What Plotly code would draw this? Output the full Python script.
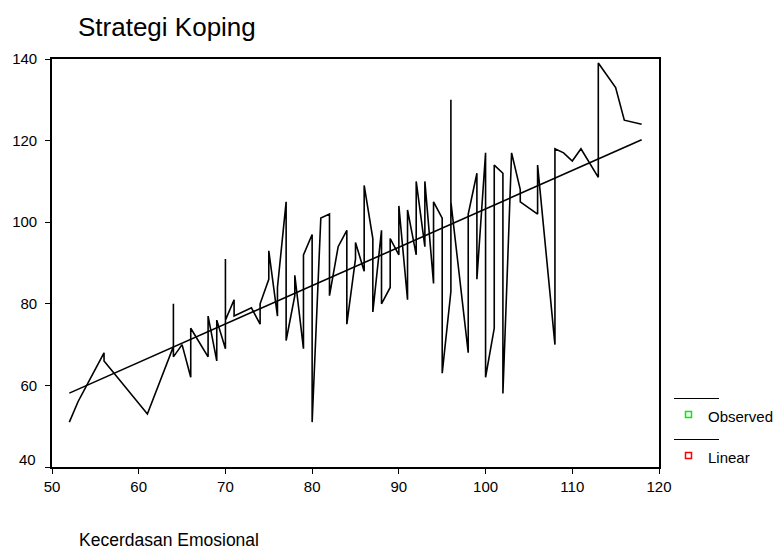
import plotly.graph_objects as go

# Observed data (x sorted, as drawn by SPSS curve estimation)
x_obs = [52, 53, 54, 56, 56, 60, 61, 64, 64, 64, 65, 66, 66, 68, 68, 69, 69,
         70, 70, 70, 71, 71, 73, 74, 74, 75, 75, 76, 76, 77, 77, 78, 78,
         79, 79, 80, 80, 81, 82, 82, 83, 84, 84, 85, 85, 86, 86, 87, 87,
         88, 88, 89, 89, 90, 90, 91, 91, 92, 92, 93, 93, 94, 94, 95, 95,
         96, 96, 96, 98, 98, 99, 99, 100, 100, 101, 101, 102, 102, 103,
         104, 104, 106, 106, 108, 108, 109, 110, 111, 113, 113, 115, 116, 118]
y_obs = [51, 56, 60, 68, 66, 55.5, 53, 69.5, 80, 67, 70, 62, 74, 67, 77, 66, 76,
         69, 91, 76, 81, 77, 79, 75, 80, 86, 93, 77, 84, 105, 71, 82, 87,
         69, 92, 97, 51, 101, 102, 82, 94, 98, 75, 91, 95, 88, 109, 96, 78,
         98, 80, 84, 96, 92, 104, 81, 103, 92, 110, 94, 110, 85, 105, 101, 63,
         83, 130, 105, 68, 102, 112, 86, 117, 62, 74, 114, 112, 58, 117,
         108, 105, 102, 114, 70, 118, 117, 115, 118, 111, 139, 133, 125, 124]

# Linear fit coefficients
lin_intercept = 9.17
lin_slope = 0.941

x_ticks = [50, 60, 70, 80, 90, 100, 110, 120]
y_ticks = [40, 60, 80, 100, 120, 140]

title_text = "Strategi Koping"
x_title = "Kecerdasan Emosional"
legend_labels = ["Observed", "Linear"]
legend_colors = ["#00ee00", "#ff0000"]

x_lin = sorted(set(x_obs))
y_lin = [lin_intercept + lin_slope * v for v in x_lin]

FONT = "Liberation Sans, Arial, sans-serif"

fig = go.Figure()
fig.add_trace(go.Scatter(x=x_obs, y=y_obs, mode="lines",
                         line=dict(color="black", width=1.6), showlegend=False,
                         hoverinfo="skip"))
fig.add_trace(go.Scatter(x=x_lin, y=y_lin, mode="lines",
                         line=dict(color="black", width=1.6), showlegend=False,
                         hoverinfo="skip"))

L, R, T, B = 52, 124, 59, 84
W, H = 783, 551
pw = W - L - R
ph = H - T - B


def px2paper_x(px):
    return (px - L) / pw


def px2paper_y(py):
    return (H - B - py) / ph


shapes = []
annotations = []
# legend: line above each marker
line_ys = [398.5, 439.5]
mark_ys = [414.5, 455.5]
for i, lab in enumerate(legend_labels):
    shapes.append(dict(type="line", xref="paper", yref="paper",
                       x0=px2paper_x(674), x1=px2paper_x(719),
                       y0=px2paper_y(line_ys[i]), y1=px2paper_y(line_ys[i]),
                       line=dict(color="black", width=1.2)))
    shapes.append(dict(type="rect", xref="paper", yref="paper",
                       x0=px2paper_x(685.5), x1=px2paper_x(691.5),
                       y0=px2paper_y(mark_ys[i] - 3), y1=px2paper_y(mark_ys[i] + 3),
                       line=dict(color=legend_colors[i], width=1.5)))
    annotations.append(dict(text=lab, xref="paper", yref="paper",
                            x=px2paper_x(706), y=px2paper_y(mark_ys[i] + 2),
                            xanchor="left", yanchor="middle", showarrow=False,
                            font=dict(family=FONT, size=15, color="black")))

annotations.append(dict(text=title_text, xref="paper", yref="paper",
                        x=px2paper_x(76), y=px2paper_y(27),
                        xanchor="left", yanchor="middle", showarrow=False,
                        font=dict(family=FONT, size=26, color="black")))
annotations.append(dict(text=x_title, xref="paper", yref="paper",
                        x=px2paper_x(77), y=px2paper_y(540),
                        xanchor="left", yanchor="middle", showarrow=False,
                        font=dict(family=FONT, size=17.5, color="black")))
# lowest y tick label sits slightly above its tick in the reference
annotations.append(dict(text=str(y_ticks[0]), xref="paper", yref="paper",
                        x=px2paper_x(38), y=px2paper_y(459),
                        xanchor="right", yanchor="middle", showarrow=False,
                        font=dict(family=FONT, size=15, color="black")))

y_ticktext = [""] + [str(v) for v in y_ticks[1:]]

fig.update_layout(
    width=W, height=H,
    margin=dict(l=L, r=R, t=T, b=B, pad=0),
    paper_bgcolor="white", plot_bgcolor="white",
    font=dict(family=FONT, size=15, color="black"),
    shapes=shapes, annotations=annotations,
    showlegend=False,
)
fig.update_xaxes(range=[50, 120], tickvals=x_ticks, ticks="outside", ticklen=5,
                 tickwidth=1.2, tickcolor="black", showgrid=False, zeroline=False,
                 showline=True, linecolor="black", linewidth=1.6, mirror=True,
                 tickfont=dict(family=FONT, size=15))
fig.update_yaxes(range=[40, 140], tickvals=y_ticks, ticktext=y_ticktext,
                 ticks="outside", ticklen=5,
                 tickwidth=1.2, tickcolor="black", showgrid=False, zeroline=False,
                 showline=True, linecolor="black", linewidth=1.6, mirror=True,
                 ticklabelstandoff=5,
                 tickfont=dict(family=FONT, size=15))

fig.write_html("out.html", config={"displayModeBar": False},
               post_script="document.body.style.margin='0';document.body.style.overflow='hidden';")
